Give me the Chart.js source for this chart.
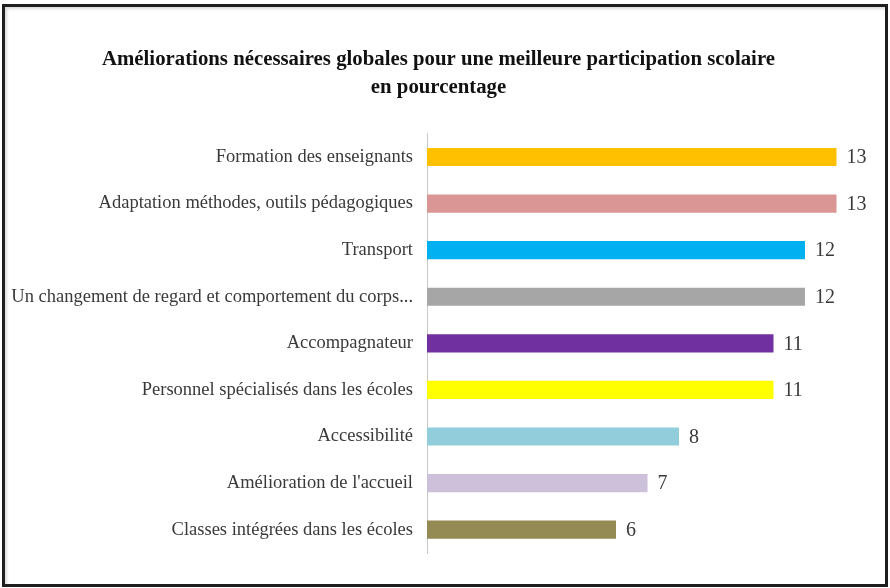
<!DOCTYPE html>
<html>
<head>
<meta charset="utf-8">
<title>Améliorations nécessaires</title>
<script src="https://cdn.jsdelivr.net/npm/chart.js@4/dist/chart.umd.min.js"></script>
<style>
  html, body { margin: 0; padding: 0; background: #fff; }
  #wrap { position: relative; width: 890px; height: 588px; }
  #frame {
    position: absolute; left: 2px; top: 4px; width: 880px; height: 577px;
    border: 3px solid #1e1e1e; box-shadow: inset 2px 2px 3px rgba(0,0,0,0.15);
    pointer-events: none;
  }
</style>
</head>
<body>
<div id="wrap">
  <canvas id="chart" width="890" height="588"></canvas>
  <div id="frame"></div>
</div>
<script>
const titleLines = [
  'Améliorations nécessaires globales pour une meilleure participation scolaire',
  'en pourcentage'
];
const categories = [
  'Formation des enseignants',
  'Adaptation méthodes, outils pédagogiques',
  'Transport',
  'Un changement de regard et comportement du corps...',
  'Accompagnateur',
  'Personnel spécialisés dans les écoles',
  'Accessibilité',
  "Amélioration de l'accueil",
  'Classes intégrées dans les écoles'
];
const values = [13, 13, 12, 12, 11, 11, 8, 7, 6];
const barColors = [
  '#FFC000', '#D99694', '#00B0F0', '#A6A6A6', '#7030A0',
  '#FFFF00', '#92CDDC', '#CCC0DA', '#948A54'
];

const FONT = '"Liberation Serif", "Times New Roman", serif';

// draws the value next to each bar
const valueLabels = {
  id: 'valueLabels',
  afterDatasetsDraw(chart) {
    const ctx = chart.ctx;
    const meta = chart.getDatasetMeta(0);
    ctx.save();
    ctx.font = '20px ' + FONT;
    ctx.fillStyle = '#3a3a3a';
    ctx.textAlign = 'left';
    ctx.textBaseline = 'middle';
    meta.data.forEach((bar, i) => {
      ctx.fillText(values[i], bar.x + 10, bar.y + 1);
    });
    ctx.restore();
  }
};

new Chart(document.getElementById('chart').getContext('2d'), {
  type: 'bar',
  data: {
    labels: categories,
    datasets: [{
      data: values,
      backgroundColor: barColors,
      borderWidth: 0,
      categoryPercentage: 1,
      barPercentage: 0.39
    }]
  },
  options: {
    indexAxis: 'y',
    responsive: false,
    animation: false,
    layout: { padding: { left: 9, right: 22, top: 0, bottom: 35 } },
    plugins: {
      legend: { display: false },
      tooltip: { enabled: false },
      title: {
        display: true,
        text: titleLines,
        color: '#111',
        font: { family: FONT, size: 20.8, weight: 'bold', lineHeight: 1.34 },
        padding: { top: 46, bottom: 32 }
      }
    },
    scales: {
      x: {
        display: false,
        min: 0,
        max: 14
      },
      y: {
        afterFit(scale) { scale.width = 418; },
        grid: { display: false },
        border: { display: true, color: '#c8c8c8', width: 1 },
        ticks: {
          color: '#3a3a3a',
          padding: 6,
          font: { family: FONT, size: 18.5 }
        }
      }
    }
  },
  plugins: [valueLabels]
});
</script>
</body>
</html>
